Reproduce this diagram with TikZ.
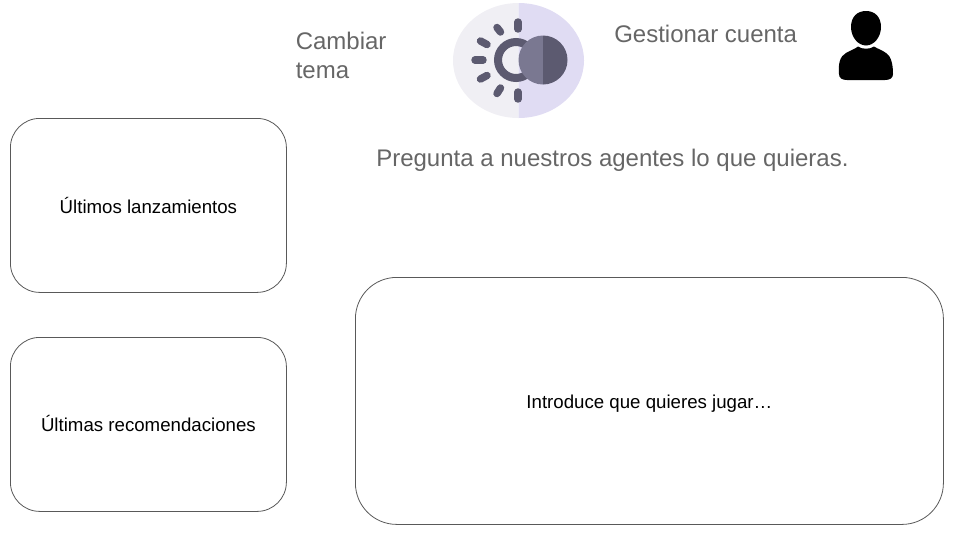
\documentclass[tikz,border=0pt]{standalone}
\usepackage{fontspec}
\setmainfont{Liberation Sans}
\definecolor{boxline}{HTML}{595959}
\definecolor{greytext}{HTML}{666666}
\definecolor{iconleft}{HTML}{F0EFF4}
\definecolor{iconright}{HTML}{E0DCF3}
\definecolor{icondark}{HTML}{5C5A70}
\definecolor{iconmid}{HTML}{7A7891}
\newcommand\paneltext[2]{\raisebox{#1}[0pt][0pt]{#2}}
\tikzset{
  x=0.75pt,y=-0.75pt,
  panel/.style={draw=boxline,line width=0.6pt,fill=white,rounded corners=#1,inner sep=0pt,text=black,anchor=north west,font=\fontsize{14}{16}\selectfont},
  caption/.style={text=greytext,font=\fontsize{18}{21.75}\selectfont,anchor=west,inner sep=0pt,align=left},
  ray/.style={draw=icondark,line width=5.6pt,line cap=round},
}
\begin{document}
\begin{tikzpicture}
\useasboundingbox (0,0) rectangle (960,540);
\node[panel=22pt,minimum width=207pt,minimum height=130.5pt] (lanz) at (10,118) {\paneltext{-6.2pt}{Últimos lanzamientos}};
\node[panel=22pt,minimum width=207pt,minimum height=130.5pt] (reco) at (10,337) {\paneltext{-5.3pt}{Últimas recomendaciones}};
\node[panel=31pt,minimum width=441pt,minimum height=185.25pt] (input) at (355,277) {\paneltext{-6pt}{Introduce que quieres jugar…}};
\node[caption] (tema) at (295.5,55.7) {Cambiar\\tema};
\node[caption] (cuenta) at (614,34) {Gestionar cuenta};
\node[caption] (preg) at (376,160.5) {Pregunta a nuestros agentes lo que quieras.};
% theme icon
\begin{scope}
  \clip (453,0) rectangle (518.5,125);
  \fill[iconleft] (518.5,60.5) ellipse [x radius=65.5,y radius=57.5];
\end{scope}
\begin{scope}
  \clip (518.5,0) rectangle (590,125);
  \fill[iconright] (518.5,60.5) ellipse [x radius=65.5,y radius=57.5];
\end{scope}
\draw[icondark,line width=6pt] (516,60) circle [radius=18];
\draw[ray] (518,22) -- (518,29);
\draw[ray] (518,92) -- (518,99);
\draw[ray] (475,60) -- (483,60);
\draw[ray] (497,27.5) -- (500.5,32);
\draw[ray] (480.5,41) -- (487,44.5);
\draw[ray] (480.5,79) -- (487,75.5);
\draw[ray] (497,93.5) -- (500.5,88);
\begin{scope}
  \clip (515,30) rectangle (543,90);
  \fill[iconmid] (543,60) circle [radius=24.5];
\end{scope}
\begin{scope}
  \clip (543,30) rectangle (570,90);
  \fill[icondark] (543,60) circle [radius=24.5];
\end{scope}
% person icon
\fill[black] (866,11) .. controls (875,11) and (881,17) .. (881,27)
  .. controls (881,37) and (874,45.5) .. (866,45.5)
  .. controls (858,45.5) and (851,37) .. (851,27)
  .. controls (851,17) and (857,11) .. (866,11) -- cycle;
\fill[black] (839,74) .. controls (838,64) and (840,56) .. (846,53)
  .. controls (851,50) and (855,49) .. (858,46.5)
  .. controls (862,49.5) and (870,49.5) .. (874,46.5)
  .. controls (878,49) and (882,50) .. (886,53)
  .. controls (891,56) and (893,64) .. (893,74)
  .. controls (893,78) and (890,80) .. (885,80)
  -- (847,80) .. controls (842,80) and (839,78) .. (839,74) -- cycle;
\end{tikzpicture}
\end{document}
